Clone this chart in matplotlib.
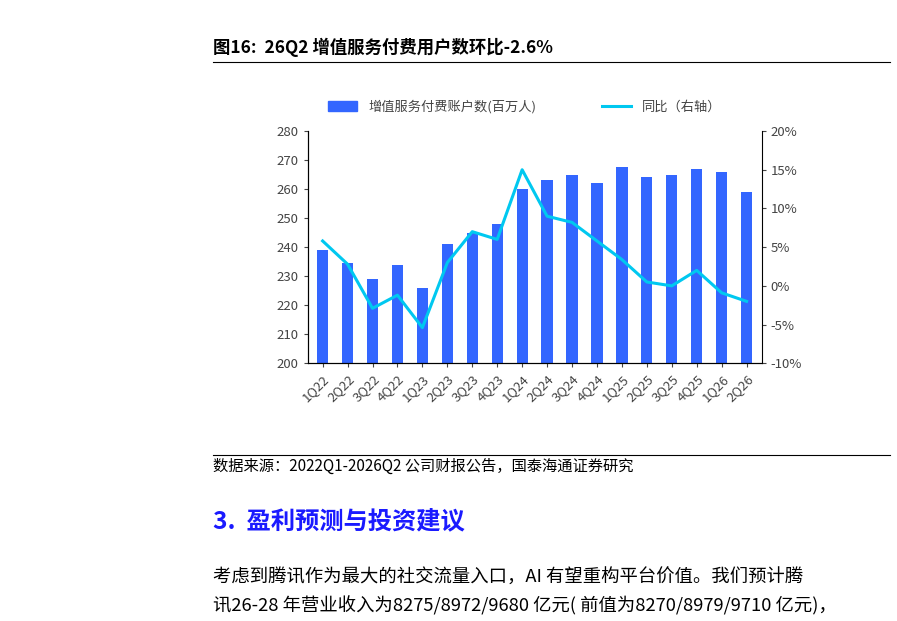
import matplotlib
matplotlib.use("Agg")
import matplotlib.pyplot as plt
import numpy as np
from matplotlib.lines import Line2D

plt.rcParams["font.family"] = ["Noto Sans CJK SC", "DejaVu Sans"]

quarters = ["1Q22", "2Q22", "3Q22", "4Q22", "1Q23", "2Q23", "3Q23", "4Q23", "1Q24",
            "2Q24", "3Q24", "4Q24", "1Q25", "2Q25", "3Q25", "4Q25", "1Q26", "2Q26"]
users = [239, 234.5, 229, 234, 225.8, 241, 245, 248, 260,
         263, 265, 262, 267.5, 264, 265, 267, 266, 259]
yoy = [5.8, 2.8, -2.9, -1.2, -5.4, 3.0, 7.0, 6.0, 15.0,
       9.0, 8.2, 5.8, 3.4, 0.5, 0.0, 2.0, -0.9, -2.0]

BAR, LINE, TXT = "#3366ff", "#00c8f0", "#444444"

fig = plt.figure(figsize=(8.97, 6.21), dpi=100)
ax = fig.add_axes([0.343, 0.415, 0.506, 0.374])
x = np.arange(len(quarters))
ax.bar(x, users, width=0.45, color=BAR)
ax.set_ylim(200, 280)
ax.set_yticks(range(200, 281, 10))
ax.set_xlim(-0.6, len(quarters) - 0.4)
ax.set_xticks(x)
ax.set_xticklabels(quarters, rotation=45, ha="right", rotation_mode="anchor")
ax2 = ax.twinx()
ax2.plot(x, yoy, color=LINE, lw=2.2)
ax2.set_ylim(-10, 20)
ax2.set_yticks(range(-10, 21, 5))
ax2.set_yticklabels([f"{v}%" for v in range(-10, 21, 5)])
for a in (ax, ax2):
    a.spines["top"].set_visible(False)
    a.tick_params(labelsize=9.5, colors=TXT, length=3)
ax.spines["right"].set_visible(False)

handles = [plt.Rectangle((0, 0), 1, 1, color=BAR), Line2D([], [], color=LINE, lw=2.2)]
fig.legend(handles, ["增值服务付费账户数(百万人)", "同比（右轴）"], loc="center",
           bbox_to_anchor=(0.585, 0.828), ncol=2, frameon=False, fontsize=9.5,
           columnspacing=5, handlelength=2.2, labelcolor=TXT)

# page text
fig.text(0.237, 0.924, "图16:  26Q2 增值服务付费用户数环比-2.6%", fontsize=12.5, weight="bold",
         va="center")
fig.add_artist(Line2D([0.237, 0.992], [0.900, 0.900], color="black", lw=0.8))
fig.add_artist(Line2D([0.237, 0.992], [0.267, 0.267], color="black", lw=0.8))
fig.text(0.237, 0.249, "数据来源：2022Q1-2026Q2 公司财报公告，国泰海通证券研究", fontsize=11,
         va="center")
fig.text(0.237, 0.161, "3.  盈利预测与投资建议", fontsize=17.5, weight="bold", color="#1a1aff",
         va="center")
fig.text(0.237, 0.069, "考虑到腾讯作为最大的社交流量入口，AI 有望重构平台价值。我们预计腾",
         fontsize=13.2, va="center")
fig.text(0.237, 0.024, "讯26-28 年营业收入为8275/8972/9680 亿元( 前值为8270/8979/9710 亿元)，",
         fontsize=13.2, va="center")

fig.savefig("out.png")
